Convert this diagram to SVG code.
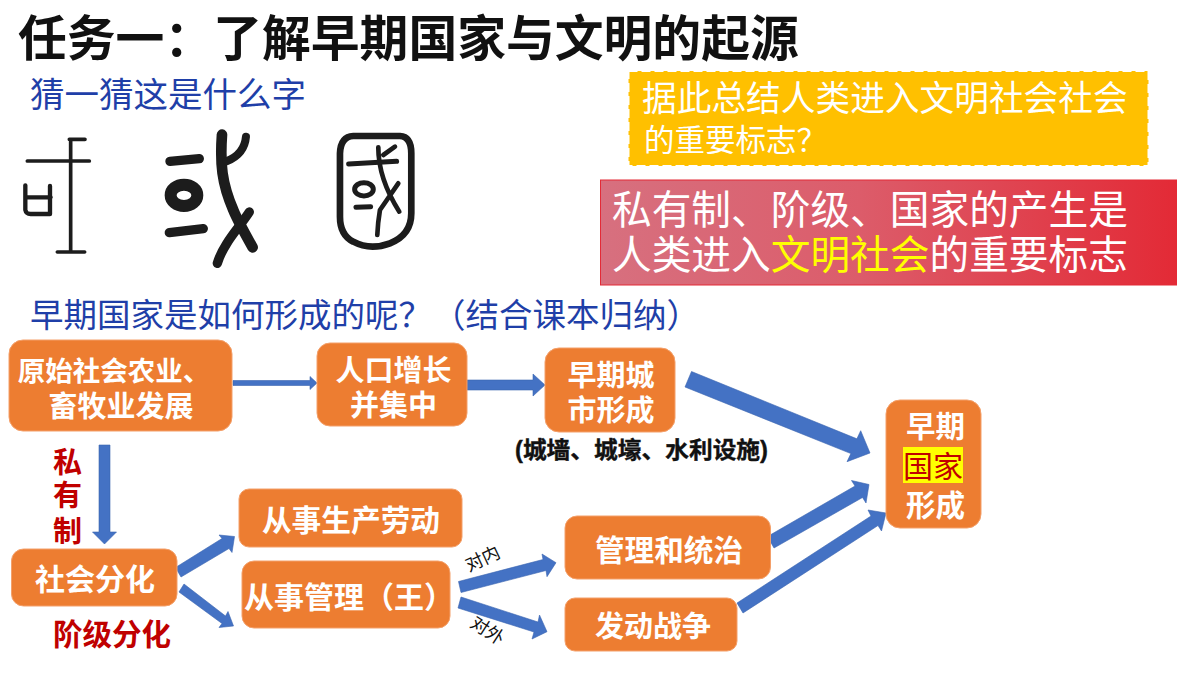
<svg xmlns="http://www.w3.org/2000/svg" width="1200" height="675" viewBox="0 0 1200 675">
<style>
text{font-family:"Liberation Sans","Noto Sans CJK SC",sans-serif}
.box{fill:#ED7D31;stroke:#F4A06A;stroke-width:1}
.w{fill:#fff;font-weight:700;text-anchor:middle}
.blue{fill:#1F3FA8;font-size:33.500px;font-weight:400}
.red{fill:#C00000;font-weight:700}
.arr{fill:#4472C4;stroke:#3A64B0;stroke-width:.6}
.g{fill:none;stroke:#1c1c1c;stroke-linecap:round;stroke-linejoin:round}
</style>
<defs>
<linearGradient id="rg" x1="0" x2="1" y1="0" y2="0"><stop offset="0" stop-color="#D7707F"/><stop offset=".45" stop-color="#DC5C6A"/><stop offset="1" stop-color="#E32A36"/></linearGradient>
</defs>
<rect width="1200" height="675" fill="#fff"/>
<text id="title" x="18" y="56" font-size="48.800" font-weight="700" fill="#111">任务一&#xFF1A;了解早期国家与文明的起源</text>
<text x="30" y="107" class="blue" style="font-size:34.500px">猜一猜这是什么字</text>
<text x="30" y="327" class="blue">早期国家是如何形成的呢&#xFF1F;&#xFF08;结合课本归纳&#xFF09;</text>

<g id="glyphs" transform="translate(0,120) scale(.3333)">
<g class="g" stroke-width="11"><path d="M208 58H255M212 58V395M82 123H268M172 396H254"/><path stroke-width="13" d="M76 196V270Q78 282 92 282H150V198M80 232H152"/></g>
<g class="g" stroke-width="32"><path stroke-width="28" d="M510 124L598 116M508 338L610 326"/><ellipse cx="552" cy="226" rx="40" ry="32" stroke-width="36"/><path d="M666 44C660 130 665 190 700 270C712 300 740 350 758 382"/><path stroke-width="24" d="M738 50C735 85 715 110 680 124"/><path d="M748 276C720 320 670 370 652 430" stroke-width="28"/></g>
<g class="g" stroke-width="20"><path d="M1060 48H1200Q1234 50 1234 100V280Q1234 345 1170 370Q1110 392 1060 365Q1020 345 1020 290V100Q1022 50 1060 48Z"/><path stroke-width="15" d="M1046 132L1190 124M1068 262L1112 260"/><ellipse cx="1092" cy="208" rx="28" ry="20" stroke-width="15"/><path stroke-width="14" d="M1135 82C1135 140 1150 200 1198 275M1185 80L1150 105M1195 190L1140 270C1135 300 1133 320 1132 345"/></g>
</g>

<g id="connectors">
<polygon class="arr" points="233,380.500 310,380.500 310,376.500 317,383 310,389.500 310,385.500 233,385.500"/>
<polygon class="arr" points="467,380 533,380 533,374 545,385 533,396 533,390 467,390"/>
<polygon class="arr" points="691.500,371.500 856.900,438.800 860.700,430.700 870,453 847,461.700 850.900,453.600 685,387"/>
<polygon class="arr" points="767.500,536.500 855,486 851.500,480.500 869,484.500 866,503 862.500,497.500 774,548"/>
<polygon class="arr" points="737,603 871,516 868,510 886,513 881.500,531 878,525.500 743,613"/>
<polygon class="arr" points="99,445 110,445 110,532 116.500,532 104.500,544 92.500,532 99,532"/>
<polygon class="arr" points="175.500,567.500 222,538.500 219,535 234.500,536.500 232,552.500 229,548.500 181,577"/>
<polygon class="arr" points="184,584 225.500,616 228,611.500 233.500,626 219,627.500 222,623.500 179,592"/>
<polygon class="arr" points="458.500,581.500 543,559.500 542,554 556,562.700 547,576.700 546,570.500 461,592.500"/>
<polygon class="arr" points="461,597 538,622 539.500,615 547,631.700 532,639 534,632 458,608"/>
</g>

<g id="hint">
<rect x="628.500" y="71" width="520" height="95" fill="#FFC000" stroke="#fff" stroke-width="2" stroke-dasharray="9 4"/>
<text x="642" y="111" font-size="34.700" fill="#fff" font-weight="400">据此总结人类进入文明社会社会</text>
<text x="644" y="151" font-size="30.500" fill="#fff" font-weight="400">的重要标志&#xFF1F;</text>
</g>
<g id="answer">
<rect x="600.500" y="180" width="576" height="105" fill="url(#rg)" stroke="#E32A36" stroke-width="1"/>
<text x="612" y="224" font-size="39.700" fill="#fff" font-weight="400">私有制、阶级、国家的产生是</text>
<text x="612" y="269" font-size="39.700" fill="#fff" font-weight="400">人类进入<tspan fill="#FFFF00">文明社会</tspan>的重要标志</text>
</g>

<g id="n1"><rect class="box" x="9" y="340" width="223" height="91" rx="14"/>
<text class="w" x="114" y="381" font-size="27.500">原始社会农业、</text><text class="w" x="121" y="417" font-size="29">畜牧业发展</text></g>
<g id="n2"><rect class="box" x="317" y="343" width="150" height="83" rx="13"/>
<text class="w" x="393.500" y="381" font-size="29">人口增长</text><text class="w" x="393.500" y="416" font-size="29">并集中</text></g>
<g id="n3"><rect class="box" x="545" y="348" width="130" height="84" rx="14"/>
<text class="w" x="611" y="386" font-size="29">早期城</text><text class="w" x="611" y="421" font-size="29">市形成</text></g>
<text id="note" x="515" y="458" font-size="23" font-weight="700" fill="#111" stroke="#111" stroke-width=".4" textLength="253" lengthAdjust="spacingAndGlyphs">(城墙、城壕、水利设施)</text>
<g id="n4"><rect class="box" x="886" y="400" width="95" height="128" rx="14"/>
<rect x="903" y="447" width="60" height="36" fill="#FFFF00"/>
<text class="w" x="935.500" y="437" font-size="29.500">早期</text>
<text x="903" y="477" font-size="30" fill="#C00000" font-weight="400">国家</text>
<text class="w" x="935.500" y="516" font-size="29.500">形成</text></g>
<g id="n5"><rect class="box" x="11.500" y="549" width="165.500" height="57" rx="12"/>
<text class="w" x="95" y="590" font-size="30">社会分化</text></g>
<g id="n6"><rect class="box" x="239" y="489" width="223" height="58" rx="10"/>
<text class="w" x="351" y="531" font-size="29.700">从事生产劳动</text></g>
<g id="n7"><rect class="box" x="242" y="561" width="208" height="67" rx="12"/>
<text x="244" y="608" font-size="30" fill="#fff" font-weight="700">从事管理&#xFF08;王&#xFF09;</text></g>
<g id="n8"><rect class="box" x="565" y="516" width="205.500" height="63" rx="12"/>
<text class="w" x="669" y="561" font-size="29.600">管理和统治</text></g>
<g id="n9"><rect class="box" x="565" y="598" width="172" height="53" rx="10"/>
<text class="w" x="653" y="637" font-size="29">发动战争</text></g>

<g id="labels">
<g class="red" font-size="29"><text x="53" y="473">私</text><text x="53" y="506">有</text><text x="53" y="542">制</text></g>
<text class="red" x="53" y="645" font-size="29.500">阶级分化</text>
<text transform="translate(469,572) rotate(-25)" font-size="18" font-weight="400" fill="#111">对内</text>
<text transform="translate(469,626) rotate(33)" font-size="18" font-weight="400" fill="#111">对外</text>
</g>
</svg>
